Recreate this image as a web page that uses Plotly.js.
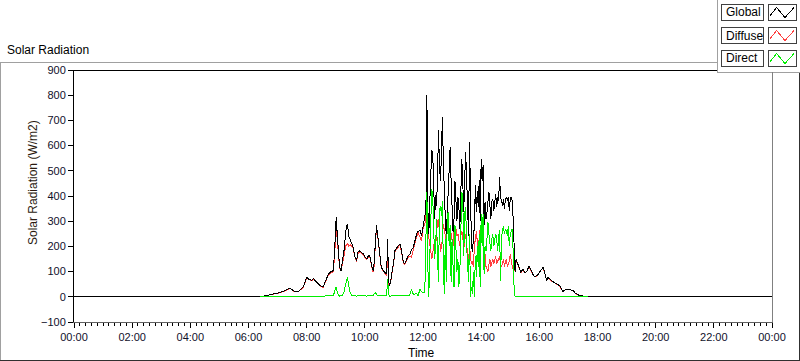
<!DOCTYPE html>
<html>
<head>
<meta charset="utf-8">
<script src="https://cdn.plot.ly/plotly-3.0.1.min.js"></script>
<style>
html,body{margin:0;padding:0;background:#fff;}
#chart{width:800px;height:361px;}
#chart .scatterlayer path.js-line{shape-rendering:crispEdges;}
#chart .layer-above path{shape-rendering:crispEdges;}
</style>
</head>
<body>
<div id="chart"></div>
<script>
// ---------------- DATA ----------------
const times = [
  "00:00","06:24","06:35","06:50","07:05","07:12","07:19","07:26","07:32","07:38","07:43","07:50","07:53","07:57",
  "08:00","08:04","08:10","08:14","08:17","08:21","08:25","08:28","08:34","08:38","08:41","08:45","08:48","08:52","08:55","08:58",
  "09:01","09:03","09:05","09:08","09:11","09:14","09:17","09:21","09:24","09:27","09:30","09:33","09:36","09:40","09:43","09:46","09:50","09:53","09:57",
  "10:00","10:04","10:08","10:11","10:14","10:17","10:19","10:22","10:24","10:27","10:31","10:34","10:38","10:42","10:45","10:47","10:49","10:51","10:54","10:57","10:59",
  "11:02","11:06","11:10","11:13","11:16","11:19","11:22","11:26","11:30","11:33","11:36","11:40","11:43","11:47","11:50","11:54","11:57",
  "12:00","12:02","12:04","12:06","12:08","12:10","12:12","12:14","12:16","12:18","12:20","12:22","12:24","12:26","12:28","12:30","12:32","12:34","12:36","12:38","12:40","12:42","12:44","12:46","12:48","12:50","12:52","12:54","12:56","12:58",
  "13:00","13:02","13:04","13:06","13:08","13:10","13:12","13:14","13:16","13:18","13:20","13:22","13:24","13:26","13:28","13:30","13:32","13:34","13:36","13:38","13:40","13:42","13:44","13:46","13:48","13:50","13:52","13:54","13:56","13:58",
  "14:00","14:02","14:04","14:06","14:08","14:10","14:12","14:14","14:16","14:18","14:20","14:22","14:24","14:26","14:28","14:30","14:32","14:34","14:36","14:38","14:40","14:42","14:44","14:46","14:48","14:50","14:52","14:54","14:56","14:58",
  "15:00","15:02","15:04","15:06","15:08","15:10","15:12",
  "15:14","15:18","15:22","15:26","15:30","15:34","15:39","15:44","15:48","15:52","15:57","16:03","16:08","16:12","16:15","16:18","16:21","16:25","16:30","16:35","16:42","16:46","16:49","16:53","16:58","17:03","17:07","17:10","17:14","17:17","17:22","17:27","17:33","17:40","24:00"
];

const globalRad = [
  0,0,4,10,17,22,30,35,24,20,21,35,40,60,
  77,70,66,72,64,57,50,44,40,60,77,90,97,100,104,196,
  318,250,183,117,104,143,183,263,290,240,223,205,196,157,143,177,183,175,170,
  160,150,165,157,123,104,130,220,283,236,157,117,104,95,90,230,60,45,70,110,130,
  183,196,205,210,177,143,130,150,165,170,185,196,223,250,260,263,240,
  283,300,322,335,800,350,250,376,520,582,575,469,310,402,360,480,661,522,458,560,714,535,402,310,243,336,420,508,595,458,
  336,256,310,458,382,300,396,356,270,460,548,458,336,470,575,469,302,243,615,376,203,177,230,283,442,336,420,356,462,300,
  548,458,522,283,376,310,336,389,416,362,310,376,389,342,369,409,356,396,382,475,396,376,362,389,349,389,396,382,396,342,
  389,396,382,310,203,97,150,
  137,117,97,110,97,100,123,97,84,80,88,105,117,90,64,77,70,64,58,53,44,30,21,28,30,30,26,24,15,11,6,4,2,0,0
];

const diffuseRad = [
  null,0,4,9,16,21,28,33,23,19,20,33,38,58,
  74,68,64,70,62,55,48,42,38,57,74,87,93,96,99,176,
  278,230,175,114,101,138,163,203,213,200,208,200,192,154,140,172,179,172,167,
  157,147,161,153,120,99,120,203,273,231,153,114,101,92,85,160,50,42,67,106,126,
  178,191,200,205,172,139,126,145,160,162,155,186,211,238,255,231,220,
  268,285,290,329,340,263,240,220,180,150,170,210,160,200,280,300,310,260,180,200,230,290,250,240,210,270,260,230,276,250,
  230,200,260,276,270,240,250,220,200,240,260,240,190,220,250,200,180,140,200,160,130,140,120,200,230,260,220,180,240,270,
  250,230,210,190,170,120,110,100,130,150,120,140,150,130,150,160,130,140,150,160,130,120,130,150,120,140,150,120,130,140,
  170,130,120,110,170,97,148,
  135,116,96,108,96,99,121,96,83,79,87,104,115,89,63,76,69,63,57,52,43,29,20,27,29,29,25,23,14,10,5,3,1,0,null
];

const directRad = [
  null,0,0,1,1,1,2,2,1,1,1,2,2,2,
  3,2,2,2,2,2,2,2,2,3,3,3,4,4,5,20,
  40,20,8,3,3,5,20,60,77,40,15,5,4,3,3,5,4,3,3,
  3,3,4,4,3,5,10,17,10,5,4,3,3,3,5,70,10,3,3,4,4,
  5,5,5,5,5,4,4,5,5,8,30,10,12,12,5,32,20,
  15,15,44,200,416,117,0,160,340,429,402,243,150,200,310,150,60,336,362,322,380,117,10,230,60,310,336,200,283,60,
  230,120,40,283,160,100,150,40,100,230,416,400,160,330,356,200,100,60,250,0,40,10,100,0,160,80,200,120,250,40,
  330,200,330,90,200,180,230,297,250,200,180,230,250,200,220,250,230,180,240,263,64,240,260,280,250,270,263,240,280,200,
  250,263,270,180,30,0,0,
  0,0,0,0,0,0,0,0,0,0,0,0,0,0,0,0,0,0,0,0,0,0,0,0,0,0,0,0,0,0,0,0,0,0,null
];

const seriesNames = ["Global","Diffuse","Direct"];
const yTickVals = [-100,0,100,200,300,400,500,600,700,800,900];

// ---------------- CHART ----------------
const xs = times.map(t => t === "24:00" ? "2000-01-02 00:00" : "2000-01-01 " + t);

const FONT = "Liberation Sans, Arial, sans-serif";
const L = 74, T = 70, W = 698, H = 252;
const px = x => (x - L) / W;
const py = y => (T + H - y) / H;

const traces = [
  {x: xs, y: diffuseRad, name: seriesNames[1], type: "scatter", mode: "lines",
   line: {color: "#ff4040", width: 1}, connectgaps: false},
  {x: xs, y: globalRad, name: seriesNames[0], type: "scatter", mode: "lines",
   line: {color: "#000000", width: 1}},
  {x: xs, y: directRad, name: seriesNames[2], type: "scatter", mode: "lines",
   line: {color: "#00ee00", width: 1}, connectgaps: false}
];

function hline(x0, x1, y, color) {
  return {type: "line", xref: "paper", yref: "paper", x0: px(x0), x1: px(x1), y0: py(y), y1: py(y),
          line: {color: color, width: 1}};
}
function vline(x, y0, y1, color) {
  return {type: "line", xref: "paper", yref: "paper", x0: px(x), x1: px(x), y0: py(y0), y1: py(y1),
          line: {color: color, width: 1}};
}
function rect(x0, y0, x1, y1, color) {
  return {type: "rect", xref: "paper", yref: "paper", x0: px(x0), x1: px(x1), y0: py(y0), y1: py(y1),
          line: {color: color, width: 1}, fillcolor: "rgba(255,255,255,0)"};
}

const shapes = [
  // outer frame
  vline(0.5, 62, 361, "#a0a0a0"),
  hline(0, 717, 62.5, "#a0a0a0"),
  vline(799.5, 72, 361, "#303030"),
  hline(0, 800, 360.5, "#303030"),
  // legend panel edges
  vline(717.5, 0, 72.5, "#a0a0a0"),
  hline(717, 800, 72.5, "#a0a0a0"),
  // plot box
  hline(73, 717, 70.5, "#000000"),
  vline(73.5, 70, 323, "#000000"),
  vline(772.5, 72, 323, "#808080"),
  hline(73, 773, 322.5, "#606060")
];

const annotations = [
  {text: "Solar Radiation", xref: "paper", yref: "paper", x: px(5), y: py(50), xanchor: "left", yanchor: "middle",
   showarrow: false, font: {family: FONT, size: 12, color: "#000"}},
  {text: "Solar Radiation (W/m2)", xref: "paper", yref: "paper", x: px(33), y: py(183), textangle: -90,
   xanchor: "center", yanchor: "middle", showarrow: false, font: {family: FONT, size: 12, color: "#2a1a10"}},
  {text: "Time", xref: "paper", yref: "paper", x: px(421), y: py(353), xanchor: "center", yanchor: "middle",
   showarrow: false, font: {family: FONT, size: 12, color: "#000"}}
];

const legendColors = ["#000000", "#ff4040", "#00ee00"];
seriesNames.forEach((name, i) => {
  const y0 = 4.5 + i * 23;
  shapes.push(rect(721, y0, 763, y0 + 16, "#404040"));
  shapes.push(rect(768, y0, 796, y0 + 16, "#404040"));
  shapes.push({type: "path", xref: "paper", yref: "paper",
    path: `M ${px(769.5)},${py(y0 + 12)} L ${px(776.5)},${py(y0 + 3)} L ${px(785)},${py(y0 + 13)} L ${px(794)},${py(y0 + 3)}`,
    line: {color: legendColors[i], width: 1}});
  annotations.push({text: name, xref: "paper", yref: "paper", x: px(723.5), y: py(y0 + 8),
    xanchor: "left", yanchor: "middle", showarrow: false, font: {family: FONT, size: 12, color: "#000"}});
});

const layout = {
  width: 800, height: 361,
  margin: {l: L, r: 800 - L - W, t: T, b: 361 - T - H, pad: 0},
  paper_bgcolor: "#ffffff", plot_bgcolor: "#ffffff",
  showlegend: false,
  font: {family: FONT, size: 11, color: "#111"},
  xaxis: {
    type: "date", range: ["2000-01-01 00:00", "2000-01-02 00:00"],
    tick0: "2000-01-01 00:00", dtick: 7200000, tickformat: "%H:%M",
    ticks: "outside", ticklen: 5, tickcolor: "#000", tickwidth: 1,
    showgrid: false, zeroline: false, showline: false,
    tickfont: {family: FONT, size: 11, color: "#10102a"},
    minor: {dtick: 720000, ticks: "outside", ticklen: 3, tickcolor: "#000", tickwidth: 1, showgrid: false}
  },
  yaxis: {
    range: [-100, 900], tickvals: yTickVals,
    ticks: "outside", ticklen: 5, tickcolor: "#000", tickwidth: 1,
    showgrid: false, zeroline: false, showline: false,
    tickfont: {family: FONT, size: 11, color: "#10102a"}
  },
  shapes: shapes,
  annotations: annotations
};

Plotly.newPlot("chart", traces, layout, {staticPlot: true, displayModeBar: false});
</script>
</body>
</html>
